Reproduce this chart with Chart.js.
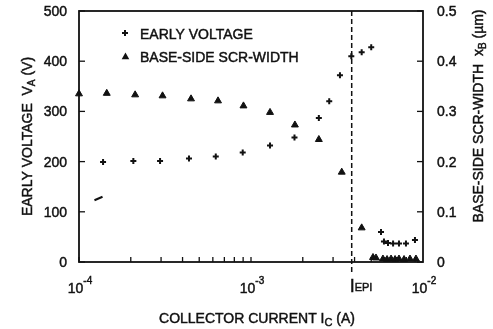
<!DOCTYPE html>
<html>
<head>
<meta charset="utf-8">
<script src="https://cdn.jsdelivr.net/npm/chart.js"></script>
<style>
  html, body { margin: 0; padding: 0; background: #fff; }
  #wrap { width: 493px; height: 329px; }
</style>
</head>
<body>
<div id="wrap"><canvas id="c"></canvas></div>
<script>
// early voltage (+), left axis, volts
const vaCurrent = [1.38e-4, 2.07e-4, 2.96e-4, 4.36e-4, 6.24e-4, 8.95e-4, 1.29e-3, 1.79e-3, 2.48e-3, 2.85e-3,
  3.29e-3, 3.83e-3, 4.40e-3, 5.00e-3, 5.70e-3, 5.93e-3, 6.26e-3, 6.70e-3, 7.25e-3, 7.96e-3, 8.98e-3];
const vaValues = [199, 201, 201, 206, 210, 218, 232, 248, 287, 320,
  372, 410, 418, 428, 60, 41, 38, 37, 37, 37, 44];

// short dash at the low-current end
const dashCurrent = [1.23e-4, 1.37e-4];
const dashValues = [123, 130];

// base-side SCR width (triangles), right axis, um
const xbCurrent = [1.0e-4, 1.45e-4, 2.12e-4, 3.06e-4, 4.48e-4, 6.43e-4, 9.04e-4, 1.29e-3, 1.80e-3, 2.48e-3,
  3.37e-3, 4.40e-3, 5.12e-3, 5.33e-3, 5.85e-3, 6.18e-3, 6.52e-3, 6.88e-3, 7.25e-3, 7.76e-3, 8.40e-3, 9.10e-3];
const xbValues = [0.335, 0.336, 0.333, 0.331, 0.325, 0.321, 0.311, 0.298, 0.273, 0.244,
  0.179, 0.068, 0.009, 0.008, 0.006, 0.005, 0.006, 0.005, 0.006, 0.005, 0.006, 0.006];

const epiCurrent = 3.85e-3;

// tick labels
const vaTicks = [0, 100, 200, 300, 400, 500];
const xbTicks = ['0', '0.1', '0.2', '0.3', '0.4', '0.5'];
const decadeTicks = [1e-4, 1e-3, 1e-2];
const decadeExp = ['-4', '-3', '-2'];

const FONT = '"Liberation Sans", Arial, sans-serif';
const INK = '#111';

// draw text runs (main / sub / superscript) on one baseline
function drawRuns(ctx, runs, x, y, align) {
  let w = 0;
  runs.forEach(r => {
    ctx.font = r.size + 'px ' + FONT;
    r.w = ctx.measureText(r.t).width;
    w += r.w;
  });
  let cx = align === 'center' ? x - w / 2 : (align === 'right' ? x - w : x);
  ctx.textAlign = 'left';
  ctx.textBaseline = 'alphabetic';
  ctx.save();
  ctx.lineWidth = 0.45;   // scanned print looks a bit heavier
  ctx.setLineDash([]);
  runs.forEach(r => {
    ctx.font = r.size + 'px ' + FONT;
    ctx.fillText(r.t, cx, y + (r.dy || 0));
    ctx.strokeText(r.t, cx, y + (r.dy || 0));
    cx += r.w;
  });
  ctx.restore();
}

function plus(ctx, x, y, r) {
  ctx.beginPath();
  ctx.moveTo(x - r, y); ctx.lineTo(x + r, y);
  ctx.moveTo(x, y - r); ctx.lineTo(x, y + r);
  ctx.stroke();
}

function tri(ctx, x, y, r) {
  ctx.beginPath();
  ctx.moveTo(x, y - r);
  ctx.lineTo(x + r * 0.866, y + r * 0.5);
  ctx.lineTo(x - r * 0.866, y + r * 0.5);
  ctx.closePath();
  ctx.fill();
}

// box, inward ticks, labels, legend, I_EPI marker
const decor = {
  id: 'decor',
  afterDraw(chart) {
    const ctx = chart.ctx;
    const a = chart.chartArea;
    const sx = chart.scales.x, sy = chart.scales.y, sy2 = chart.scales.y2;
    ctx.save();
    ctx.strokeStyle = INK;
    ctx.fillStyle = INK;

    // dashed line at I_EPI
    const ex = sx.getPixelForValue(epiCurrent);
    ctx.lineWidth = 1.5;
    ctx.setLineDash([5, 3]);
    ctx.beginPath();
    ctx.moveTo(ex, a.top);
    ctx.lineTo(ex, a.bottom + 10);
    ctx.stroke();
    ctx.setLineDash([]);

    // frame
    ctx.lineWidth = 1.8;
    ctx.strokeRect(a.left, a.top, a.right - a.left, a.bottom - a.top);

    // x ticks (log, inward)
    ctx.lineWidth = 1.3;
    for (let d = -4; d < -2; d++) {
      for (let m = 1; m <= 9; m++) {
        const px = sx.getPixelForValue(m * Math.pow(10, d));
        ctx.beginPath();
        ctx.moveTo(px, a.bottom);
        ctx.lineTo(px, a.bottom - 5);
        ctx.stroke();
      }
    }
    // y ticks
    vaTicks.forEach(v => {
      const py = sy.getPixelForValue(v);
      ctx.beginPath();
      ctx.moveTo(a.left, py); ctx.lineTo(a.left + 6, py);
      ctx.stroke();
    });
    xbTicks.forEach(v => {
      const py = sy2.getPixelForValue(Number(v));
      ctx.beginPath();
      ctx.moveTo(a.right, py); ctx.lineTo(a.right - 6, py);
      ctx.stroke();
    });

    // tick labels
    vaTicks.forEach(v => {
      drawRuns(ctx, [{ t: String(v), size: 14 }], a.left - 12, sy.getPixelForValue(v) + 5, 'right');
    });
    xbTicks.forEach(v => {
      drawRuns(ctx, [{ t: v, size: 14 }], a.right + 14, sy2.getPixelForValue(Number(v)) + 5, 'left');
    });
    decadeTicks.forEach((v, i) => {
      drawRuns(ctx, [{ t: '10', size: 14 }, { t: decadeExp[i], size: 10, dy: -9 }],
        sx.getPixelForValue(v) + 1, 293, 'center');
    });

    // I_EPI label
    drawRuns(ctx, [{ t: 'I', size: 18 }, { t: 'EPI', size: 11, dy: -1 }], ex - 2, 292, 'left');

    // axis titles
    drawRuns(ctx, [{ t: 'COLLECTOR CURRENT I', size: 14 }, { t: 'C', size: 11, dy: 3 }, { t: ' (A)', size: 14 }],
      257, 323, 'center');

    ctx.save();
    ctx.translate(32, (a.top + a.bottom) / 2);
    ctx.rotate(-Math.PI / 2);
    drawRuns(ctx, [{ t: 'EARLY VOLTAGE  V', size: 14 }, { t: 'A', size: 10, dy: 3 }, { t: ' (V)', size: 14 }],
      0, 0, 'center');
    ctx.restore();

    ctx.save();
    ctx.translate(483, 116);
    ctx.rotate(-Math.PI / 2);
    drawRuns(ctx, [{ t: 'BASE-SIDE SCR-WIDTH  x', size: 14 }, { t: 'B', size: 10, dy: 3 }, { t: ' (\u00b5m)', size: 14 }],
      0, 0, 'center');
    ctx.restore();

    // legend
    ctx.lineWidth = 2;
    plus(ctx, 125, 33, 3);
    drawRuns(ctx, [{ t: 'EARLY VOLTAGE', size: 14 }], 140, 38.5, 'left');
    tri(ctx, 125.5, 57, 4.4);
    drawRuns(ctx, [{ t: 'BASE-SIDE SCR-WIDTH', size: 14 }], 140, 62, 'left');

    ctx.restore();
  }
};

const toXY = (xs, ys) => xs.map((x, i) => ({ x: x, y: ys[i] }));

new Chart(document.getElementById('c'), {
  type: 'scatter',
  data: {
    datasets: [
      {
        label: 'EARLY VOLTAGE',
        data: toXY(vaCurrent, vaValues),
        yAxisID: 'y',
        pointStyle: 'cross',
        pointRadius: 3,
        borderWidth: 2,
        borderColor: INK,
        backgroundColor: INK,
        clip: false
      },
      {
        label: 'dash',
        data: toXY(dashCurrent, dashValues),
        yAxisID: 'y',
        showLine: true,
        pointRadius: 0,
        borderWidth: 2,
        borderColor: INK
      },
      {
        label: 'BASE-SIDE SCR-WIDTH',
        data: toXY(xbCurrent, xbValues),
        yAxisID: 'y2',
        pointStyle: 'triangle',
        pointRadius: 4,
        borderWidth: 1,
        borderColor: INK,
        backgroundColor: INK,
        clip: false
      }
    ]
  },
  options: {
    responsive: true,
    maintainAspectRatio: false,
    animation: false,
    devicePixelRatio: 1,
    layout: { padding: { top: 11, left: 0, right: 0, bottom: 0 } },
    plugins: { legend: { display: false }, tooltip: { enabled: false } },
    scales: {
      x: {
        type: 'logarithmic',
        min: 1e-4,
        max: 1e-2,
        ticks: { display: false },
        grid: { display: false },
        border: { display: false },
        afterFit: s => { s.height = 67; }
      },
      y: {
        position: 'left',
        min: 0,
        max: 500,
        ticks: { display: false },
        grid: { display: false },
        border: { display: false },
        afterFit: s => { s.width = 79; }
      },
      y2: {
        position: 'right',
        min: 0,
        max: 0.5,
        ticks: { display: false },
        grid: { display: false },
        border: { display: false },
        afterFit: s => { s.width = 70; }
      }
    }
  },
  plugins: [decor]
});
</script>
</body>
</html>
